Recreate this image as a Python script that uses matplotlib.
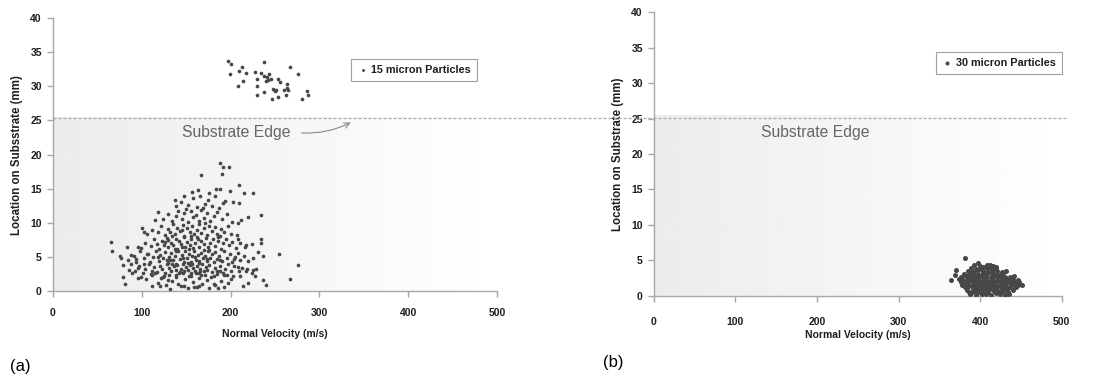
import matplotlib
matplotlib.use("Agg")
import matplotlib.pyplot as plt
import matplotlib.transforms as mtrans
import numpy as np

plt.rcParams['font.family'] = ['Liberation Sans', 'DejaVu Sans']

# --- Data ---
substrate_edge = 25.4  # mm

# (a) 15 micron particles: group that lands beyond the substrate edge
pts_15_high = [
    (197, 33.7), (200, 33.3), (199, 31.8), (210, 32.3), (213, 32.9), (217, 32.0),
    (214, 30.8), (208, 30.1), (227, 32.1), (234, 32.0), (238, 33.5), (230, 31.1),
    (230, 30.0), (230, 28.7), (238, 29.1), (241, 31.4), (243, 31.8), (245, 31.1),
    (240, 30.8), (253, 31.1), (256, 30.7), (251, 29.5), (250, 29.3), (247, 28.2),
    (253, 28.5), (263, 30.3), (264, 29.8), (260, 29.5), (265, 29.5), (262, 28.7),
    (267, 32.8), (276, 31.8), (280, 28.2), (286, 29.3), (287, 28.7), (238, 31.5),
    (242, 31.0), (248, 29.6),
]

# (a) 15 micron particles: group on the substrate
pts_15_low = [
    # outer points
    (65, 7.2), (66, 5.9), (75, 5.2), (77, 4.8), (79, 3.8), (83, 6.4), (79, 2.1),
    (81, 1.1), (88, 4.0), (89, 2.6), (91, 5.2), (94, 4.7), (96, 6.4), (96, 3.4),
    (96, 1.9), (99, 2.1), (100, 9.2), (102, 8.7), (102, 4.0), (106, 5.5), (111, 0.8),
    (115, 10.4), (118, 11.6), (129, 7.5), (129, 1.6), (137, 13.3), (148, 13.9),
    (144, 0.8), (167, 17.0), (163, 14.8), (162, 0.6), (188, 18.7), (191, 18.2),
    (198, 18.2), (190, 17.2), (184, 14.9), (188, 14.9), (199, 14.7), (210, 15.5),
    (194, 13.2), (203, 13.1), (210, 12.9), (215, 14.3), (225, 14.3), (234, 11.1),
    (220, 10.9), (208, 10.0), (212, 10.4), (217, 6.7), (207, 8.2), (208, 7.7),
    (234, 7.7), (234, 7.0), (231, 5.7), (237, 5.2), (255, 5.5), (276, 3.8),
    (267, 1.7), (240, 0.9), (236, 1.6), (228, 2.2), (225, 3.1), (217, 3.0),
    (211, 2.2), (203, 2.2), (208, 3.5), (220, 1.2), (214, 0.7), (193, 0.6),
    (186, 0.5), (165, 0.8), (181, 1.1), (120, 0.8), (124, 2.1),
    # y 0-3
    (105, 1.8), (112, 2.3), (118, 1.2), (122, 1.9), (127, 0.9), (131, 2.4),
    (134, 1.5), (138, 2.0), (141, 1.1), (146, 2.6), (149, 1.7), (152, 0.4),
    (155, 2.2), (158, 1.3), (161, 2.7), (164, 1.9), (168, 1.0), (171, 2.4),
    (174, 1.6), (178, 2.1), (182, 0.9), (185, 2.5), (189, 1.5), (193, 2.3),
    (197, 1.2), (201, 1.8), (132, 0.3), (147, 0.7), (176, 0.4), (159, 0.6),
    (115, 2.6), (143, 2.8), (166, 2.9), (188, 2.9),
    # y 2-4
    (86, 3.1), (92, 2.9), (97, 3.6), (101, 2.7), (104, 3.3), (108, 3.9), (111, 3.0),
    (114, 3.5), (117, 2.8), (120, 3.7), (123, 3.2), (126, 2.6), (128, 3.9),
    (131, 3.4), (133, 2.9), (136, 3.7), (138, 3.1), (140, 3.8), (142, 2.6),
    (144, 3.3), (146, 3.9), (148, 2.9), (150, 3.5), (152, 3.1), (154, 3.8),
    (156, 2.7), (158, 3.4), (160, 3.0), (162, 3.7), (164, 2.6), (166, 3.3),
    (168, 3.9), (170, 2.9), (172, 3.5), (174, 3.1), (176, 3.8), (179, 2.8),
    (182, 3.4), (185, 3.0), (188, 3.7), (191, 2.7), (194, 3.3), (197, 3.9),
    (200, 3.0), (204, 3.6), (209, 2.9), (213, 3.4), (219, 3.2), (224, 2.7),
    (229, 3.3), (125, 2.2), (139, 2.3), (153, 2.2), (167, 2.3), (181, 2.2),
    (110, 2.5), (134, 3.95), (157, 3.95), (196, 2.4),
    # y 4-6
    (84, 4.6), (88, 5.3), (93, 4.3), (98, 5.8), (103, 4.9), (107, 5.5), (109, 4.2),
    (113, 5.0), (116, 5.9), (119, 4.4), (121, 5.3), (124, 4.8), (126, 5.7),
    (129, 4.1), (131, 5.0), (133, 5.6), (135, 4.5), (137, 5.2), (139, 4.0),
    (141, 5.8), (143, 4.7), (145, 5.3), (147, 4.2), (149, 5.9), (151, 4.9),
    (153, 5.5), (155, 4.3), (157, 5.1), (159, 5.8), (161, 4.6), (163, 5.3),
    (165, 4.1), (167, 5.6), (169, 4.8), (171, 5.2), (173, 4.4), (175, 5.9),
    (177, 4.9), (179, 5.4), (181, 4.2), (183, 5.7), (185, 4.7), (187, 5.2),
    (190, 4.4), (193, 5.8), (196, 4.9), (199, 5.4), (202, 4.3), (205, 5.0),
    (208, 5.6), (211, 4.6), (215, 5.2), (220, 4.4), (225, 4.9), (132, 4.6),
    (146, 4.8), (160, 5.0), (174, 4.7), (188, 4.6), (118, 5.0), (204, 4.7),
    (138, 5.9), (170, 5.95), (152, 4.05), (164, 4.45), (128, 4.55),
    # y 6-8
    (99, 6.3), (104, 7.0), (110, 6.6), (114, 7.6), (119, 6.2), (123, 7.3),
    (125, 6.8), (128, 7.8), (130, 6.4), (133, 7.1), (135, 6.7), (138, 7.7),
    (140, 6.2), (142, 7.4), (144, 6.9), (147, 7.9), (149, 6.5), (151, 7.2),
    (154, 6.8), (156, 7.6), (158, 6.3), (160, 7.0), (163, 7.7), (165, 6.5),
    (167, 7.3), (170, 6.9), (172, 7.8), (175, 6.4), (177, 7.1), (180, 7.6),
    (183, 6.6), (186, 7.3), (189, 6.2), (192, 7.0), (195, 7.7), (198, 6.7),
    (202, 7.2), (206, 6.3), (211, 7.0), (216, 6.5), (224, 6.9), (117, 6.9),
    (137, 6.1), (153, 6.1), (162, 7.95), (176, 6.05), (145, 6.5), (186, 7.9),
    (126, 7.2),
    # y 8-10
    (106, 8.4), (112, 9.0), (118, 8.6), (122, 9.5), (126, 8.2), (129, 9.1),
    (132, 8.7), (135, 9.8), (137, 8.3), (140, 9.3), (143, 8.8), (146, 9.7),
    (148, 8.1), (151, 9.2), (154, 8.6), (157, 9.6), (159, 8.3), (162, 9.0),
    (165, 9.8), (167, 8.5), (170, 9.3), (173, 8.2), (176, 9.6), (179, 8.8),
    (182, 9.4), (185, 8.4), (189, 9.1), (193, 8.6), (197, 9.5), (201, 8.3),
    (134, 8.0), (156, 8.05), (171, 9.9), (145, 9.0), (188, 8.0),
    # y 10-12
    (124, 10.6), (130, 11.3), (134, 10.2), (138, 11.0), (141, 11.8), (145, 10.5),
    (148, 11.4), (152, 10.1), (155, 11.7), (158, 10.8), (161, 11.2), (164, 10.3),
    (167, 11.9), (170, 10.7), (173, 11.4), (177, 10.2), (181, 11.0), (185, 11.6),
    (190, 10.6), (196, 11.3), (202, 10.1), (150, 12.0), (169, 12.1),
    # y 12-15
    (139, 12.4), (144, 13.0), (152, 12.6), (158, 13.6), (162, 12.3), (166, 14.0),
    (171, 12.8), (175, 13.4), (179, 12.5), (183, 13.9), (187, 12.2), (192, 12.9),
    (157, 14.5), (176, 14.4),
]

# (b) 30 micron particles: one tight group on the substrate
pts_30 = [
    (382, 5.3), (364, 2.3), (371, 3.7), (397, 4.6), (432, 3.5), (446, 2.3),
    (451, 1.5), (420, 4.1), (436, 0.3), (369, 2.9), (448, 1.9), (441, 2.8),
    (388, 0.3), (395, 0.2), (401, 0.4), (407, 0.3), (413, 0.2), (419, 0.4), (425, 0.3), (431, 0.2),
    (386, 0.6), (392, 0.7), (398, 0.5), (404, 0.7), (410, 0.6), (416, 0.8), (422, 0.6), (428, 0.7), (434, 0.6),
    (384, 0.9), (391, 1.0), (397, 1.1), (403, 0.9), (409, 1.0), (415, 1.1), (421, 0.9), (427, 1.0), (434, 1.1), (440, 0.9),
    (381, 1.3), (387, 1.4), (394, 1.2), (400, 1.3), (406, 1.4), (412, 1.2), (418, 1.3), (424, 1.4), (430, 1.2), (437, 1.3), (444, 1.2),
    (378, 1.6), (384, 1.7), (390, 1.5), (396, 1.7), (402, 1.6), (408, 1.5), (414, 1.7), (420, 1.6), (426, 1.5), (432, 1.7), (439, 1.6), (446, 1.5),
    (376, 2.0), (381, 1.9), (387, 2.1), (393, 1.9), (399, 2.0), (405, 2.1), (411, 1.9), (417, 2.0), (423, 2.1), (429, 1.9), (435, 2.0), (442, 2.1),
    (374, 2.4), (379, 2.3), (385, 2.4), (391, 2.2), (397, 2.4), (403, 2.3), (409, 2.2), (415, 2.4), (421, 2.3), (427, 2.2), (433, 2.4), (440, 2.3),
    (377, 2.7), (383, 2.8), (389, 2.6), (395, 2.7), (401, 2.8), (407, 2.6), (413, 2.7), (419, 2.8), (425, 2.6), (431, 2.7), (437, 2.6),
    (380, 3.1), (386, 3.0), (392, 3.2), (398, 3.1), (404, 3.0), (410, 3.2), (416, 3.1), (422, 3.0), (428, 3.2),
    (385, 3.5), (391, 3.4), (397, 3.6), (403, 3.5), (409, 3.4), (415, 3.6), (421, 3.5), (427, 3.4),
    (389, 3.9), (395, 3.8), (401, 4.0), (408, 3.9), (414, 3.8), (420, 3.9),
    (393, 4.3), (400, 4.2), (409, 4.3), (416, 4.2),
    (389, 0.4), (396, 0.9), (402, 1.5), (408, 2.0), (414, 2.5), (420, 3.0), (426, 0.5),
    (392, 1.8), (398, 2.6), (404, 3.3), (410, 0.8), (416, 1.4), (422, 2.5), (428, 1.8),
    (390, 3.3), (396, 2.1), (402, 0.3), (408, 1.2), (414, 3.4), (420, 1.1), (426, 2.9),
    (394, 3.0), (400, 1.1), (406, 2.8), (412, 3.9), (418, 0.6), (424, 1.9), (430, 2.5),
    (388, 2.3), (384, 1.2), (433, 1.0), (438, 1.9), (443, 1.7), (404, 4.1), (412, 4.4),
]

legend_a = '15 micron Particles'
legend_b = '30 micron Particles'
xticks = [0, 100, 200, 300, 400, 500]
yticks = [0, 5, 10, 15, 20, 25, 30, 35, 40]

# --- Figure ---
fig = plt.figure(figsize=(10.99, 3.77), dpi=100)
ax_a = fig.add_axes([0.0482, 0.228, 0.404, 0.724])
ax_b = fig.add_axes([0.595, 0.215, 0.371, 0.753])

dot_color = '#474747'
spine_color = '#a8a8a8'
text_color = '#1e1e1e'
shade = np.linspace(0.925, 1.0, 256).reshape(1, -1)


def style_axis(ax, xpad, xlabelpad):
    ax.set_xlim(0, 500)
    ax.set_ylim(0, 40)
    ax.set_xticks(xticks)
    ax.set_yticks(yticks)
    for s in ['top', 'right']:
        ax.spines[s].set_visible(False)
    for s in ['left', 'bottom']:
        ax.spines[s].set_color(spine_color)
        ax.spines[s].set_linewidth(1.0)
    ax.tick_params(axis='both', colors=spine_color, length=4, width=1.0,
                   labelcolor=text_color, labelsize=7.5)
    ax.tick_params(axis='x', pad=xpad)
    ax.tick_params(axis='y', pad=4)
    for lab in ax.get_xticklabels() + ax.get_yticklabels():
        lab.set_fontweight('bold')
    ax.set_xlabel('Normal Velocity (m/s)', fontsize=7.5, fontweight='bold',
                  color=text_color, labelpad=xlabelpad)
    ax.patch.set_alpha(0)
    # shaded substrate area, light grey on the left fading to white
    ax.imshow(shade, extent=[0, 500, 0, substrate_edge], aspect='auto',
              cmap='gray', vmin=0, vmax=1, zorder=0, interpolation='bicubic')


style_axis(ax_a, xpad=8, xlabelpad=8)
style_axis(ax_b, xpad=11, xlabelpad=2)
ax_a.set_ylabel('Location on Subsstrate (mm)', fontsize=8.3, fontweight='bold',
                color=text_color, labelpad=5)
ax_b.set_ylabel('Location on Substrate (mm)', fontsize=8.3, fontweight='bold',
                color=text_color, labelpad=5)

# scatter points
xa = [p[0] for p in pts_15_high + pts_15_low]
ya = [p[1] for p in pts_15_high + pts_15_low]
ax_a.scatter(xa, ya, s=7, color=dot_color, linewidths=0, zorder=3, label=legend_a)

xb = [p[0] for p in pts_30]
yb = [p[1] for p in pts_30]
ax_b.scatter(xb, yb, s=13, color=dot_color, linewidths=0, zorder=3, label=legend_b)

# substrate edge dashed line, one line running across both panels
# (drawn by the right-hand axes so it sits above both shaded areas)
pos_a = ax_a.get_position()
pos_b = ax_b.get_position()
tr_a = mtrans.blended_transform_factory(fig.transFigure, ax_a.transData)
ax_b.plot([pos_a.x0, pos_b.x1 + 0.005], [substrate_edge, substrate_edge], transform=tr_a,
          color='#aaaaaa', lw=0.9, ls=(0, (2.5, 1.5)), clip_on=False, zorder=2)

# "Substrate Edge" labels
ax_a.annotate('', xy=(338, 24.9), xytext=(277, 23.2),
              arrowprops=dict(arrowstyle='->', color='#888888', lw=0.8,
                              connectionstyle='arc3,rad=0.15'))
ax_a.text(206, 23.2, 'Substrate Edge', fontsize=11.3, color='#666666',
          ha='center', va='center')
ax_b.text(198, 23.0, 'Substrate Edge', fontsize=11.3, color='#666666',
          ha='center', va='center')

# legends
for ax, anchor in [(ax_a, (0.955, 0.85)), (ax_b, (1.0, 0.86))]:
    leg = ax.legend(loc='upper right', bbox_to_anchor=anchor, borderaxespad=0,
                    fancybox=False, framealpha=1, edgecolor='#a0a0a0',
                    handletextpad=0.3, handlelength=1.0, markerscale=0.8,
                    prop={'size': 7.8, 'weight': 'bold'}, borderpad=0.55)
    leg.get_frame().set_linewidth(0.8)
    for t in leg.get_texts():
        t.set_color(text_color)

# panel letters
fig.text(0.009, 1 - 366 / 377, '(a)', fontsize=12, va='center', ha='left')
fig.text(0.549, 1 - 363 / 377, '(b)', fontsize=12, va='center', ha='left')

fig.savefig('out.png', dpi=100)
